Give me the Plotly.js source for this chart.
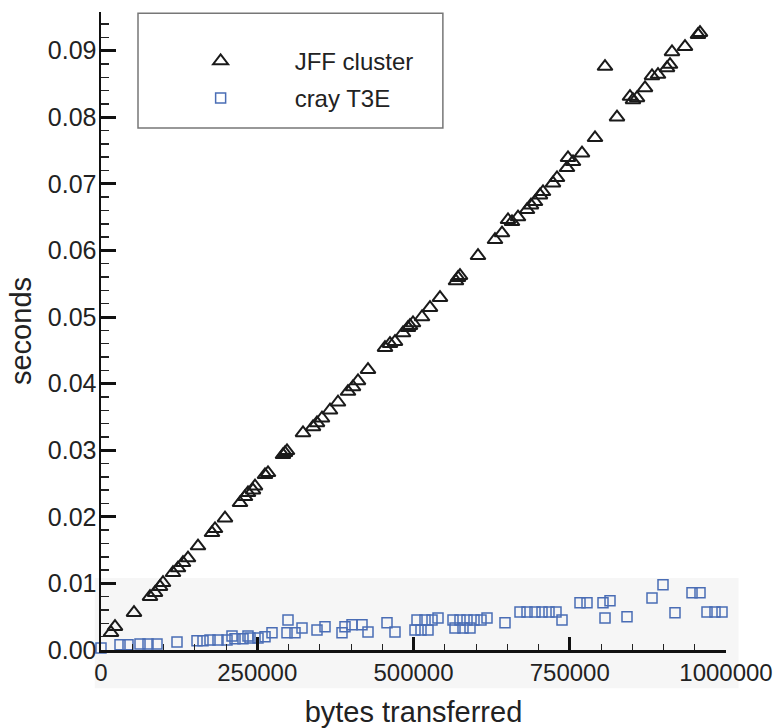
<!DOCTYPE html>
<html>
<head>
<meta charset="utf-8">
<script src="https://cdn.plot.ly/plotly-3.0.1.min.js"></script>
<style>html,body{margin:0;padding:0;background:#fff;}#chart{width:780px;height:728px;}</style>
</head>
<body>
<div id="chart"></div>
<script>
// JFF cluster (triangles)
var jffBytes = [16000,22400,52800,78400,86400,94400,99200,115200,123200,131200,139200,155200,177600,182400,198400,222400,230400,235200,243200,246400,262400,267200,291200,294400,297600,323200,339200,345600,353600,366400,379200,395200,403200,411200,427200,454400,462400,470400,483200,491200,494400,499200,513600,526400,542400,568000,571200,574400,603200,630400,641600,651200,657600,667200,681600,688000,694400,702400,707200,723200,729600,745600,747200,755200,769600,790400,806400,825600,846400,851200,857600,870400,881600,891200,905600,910400,913600,934400,955200,958400];
var jffSeconds = [0.0026,0.0035,0.0056,0.0080,0.0086,0.0095,0.0101,0.0116,0.0123,0.0131,0.0138,0.0156,0.0176,0.0182,0.0198,0.0221,0.0230,0.0236,0.0240,0.0246,0.0263,0.0266,0.0293,0.0296,0.0299,0.0326,0.0335,0.0341,0.0348,0.0360,0.0372,0.0388,0.0395,0.0404,0.0421,0.0454,0.0460,0.0463,0.0476,0.0484,0.0487,0.0491,0.0500,0.0514,0.0529,0.0554,0.0559,0.0562,0.0592,0.0616,0.0626,0.0646,0.0643,0.0650,0.0661,0.0668,0.0673,0.0683,0.0688,0.0701,0.0709,0.0724,0.0739,0.0733,0.0746,0.0769,0.0876,0.0800,0.0831,0.0826,0.0829,0.0844,0.0862,0.0864,0.0874,0.0879,0.0898,0.0906,0.0924,0.0927];
// cray T3E (squares)
var crayBytes = [0,30400,43200,62400,75200,89600,121600,153600,163200,174400,187200,201600,209600,214400,227200,235200,238400,251200,262400,273600,299200,297600,310400,321600,345600,358400,385600,390400,401600,417600,427200,457600,470400,502400,512000,523200,505600,518400,529600,539200,563200,574400,585600,596800,608000,617600,566400,579200,590400,646400,670400,681600,694400,705600,716800,728000,737600,766400,777600,803200,814400,806400,841600,881600,899200,918400,945600,958400,969600,982400,993600];
var craySeconds = [0.0003,0.0008,0.0008,0.0009,0.0009,0.0009,0.0012,0.0014,0.0014,0.0015,0.0015,0.0015,0.0021,0.0017,0.0017,0.0021,0.0018,0.0018,0.0020,0.0026,0.0045,0.0026,0.0026,0.0033,0.0030,0.0035,0.0026,0.0035,0.0038,0.0038,0.0027,0.0041,0.0027,0.0030,0.0030,0.0030,0.0045,0.0045,0.0045,0.0048,0.0045,0.0045,0.0045,0.0045,0.0045,0.0048,0.0033,0.0033,0.0033,0.0041,0.0057,0.0057,0.0057,0.0057,0.0057,0.0057,0.0045,0.0071,0.0071,0.0071,0.0074,0.0048,0.0050,0.0078,0.0098,0.0056,0.0086,0.0086,0.0057,0.0057,0.0057];
var seriesNames = ["JFF cluster", "cray T3E"];
var xTickVals = [0, 250000, 500000, 750000, 1000000];
var xTickText = ["0", "250000", "500000", "750000", "1000000"];
var yTickVals = [0, 0.01, 0.02, 0.03, 0.04, 0.05, 0.06, 0.07, 0.08, 0.09];
var yTickText = ["0.00","0.01","0.02","0.03","0.04","0.05","0.06","0.07","0.08","0.09"];

var font = "Liberation Sans, Arial, Helvetica, sans-serif";

var traces = [
  {x: jffBytes, y: jffSeconds, type: 'scatter', mode: 'markers', name: seriesNames[0], legendgroup: 'a',
   cliponaxis: false,
   marker: {symbol: 'triangle-up-open', size: 13, color: '#1a1a1a', line: {width: 2, color: '#1a1a1a'}}},
  {x: crayBytes, y: craySeconds, type: 'scatter', mode: 'markers', name: seriesNames[1], legendgroup: 'b',
   cliponaxis: false,
   marker: {symbol: 'square-open', size: 10, color: '#4a6db5', line: {width: 1.5, color: '#4a6db5'}}}
];

var layout = {
  width: 780, height: 728,
  margin: {l: 101, r: 54, t: 12, b: 78},
  paper_bgcolor: '#fff', plot_bgcolor: 'rgba(0,0,0,0)',
  font: {family: font, size: 24, color: '#222'},
  showlegend: true,
  legend: {x: 0.073, xanchor: 'left', y: 0.958, yanchor: 'top', bgcolor: 'rgba(0,0,0,0)', borderwidth: 0,
           itemwidth: 138, tracegroupgap: 3, traceorder: 'grouped', font: {size: 24, color: '#222', family: font}},
  xaxis: {range: [0, 1000000], tickvals: xTickVals, ticktext: xTickText,
          showgrid: false, zeroline: false, showline: true, linecolor: '#111', linewidth: 2.5,
          ticks: 'inside', ticklen: 13, tickwidth: 3, tickcolor: '#111',
          minor: {dtick: 50000, ticks: 'inside', ticklen: 6, tickwidth: 1, tickcolor: '#222', showgrid: false},
          tickfont: {size: 24, color: '#222'},
          title: {text: 'bytes transferred', font: {size: 29, color: '#222'}, standoff: 19}},
  yaxis: {range: [0, 0.0958], tickvals: yTickVals, ticktext: yTickText,
          showgrid: false, zeroline: false, showline: true, linecolor: '#111', linewidth: 2.5,
          ticks: 'inside', ticklen: 15, tickwidth: 3, tickcolor: '#111',
          minor: {dtick: 0.002, ticks: 'inside', ticklen: 8, tickwidth: 1.5, tickcolor: '#222', showgrid: false},
          tickfont: {size: 25, color: '#222'}, ticklabelstandoff: -3,
          title: {text: 'seconds', font: {size: 29, color: '#222'}, standoff: 8}},
  shapes: [
    {type: 'rect', xref: 'paper', yref: 'paper', x0: -0.01, x1: 1.02, y0: -0.06, y1: 0.113,
     fillcolor: '#f6f6f6', line: {width: 0}, layer: 'below'},
    {type: 'rect', xref: 'paper', yref: 'paper', x0: 0.0592, x1: 0.547, y0: 0.818, y1: 0.998,
     fillcolor: 'rgba(0,0,0,0)', line: {width: 1.5, color: '#777'}, layer: 'above'}
  ]
};

Plotly.newPlot('chart', traces, layout, {displayModeBar: false, staticPlot: true});
</script>
</body>
</html>
